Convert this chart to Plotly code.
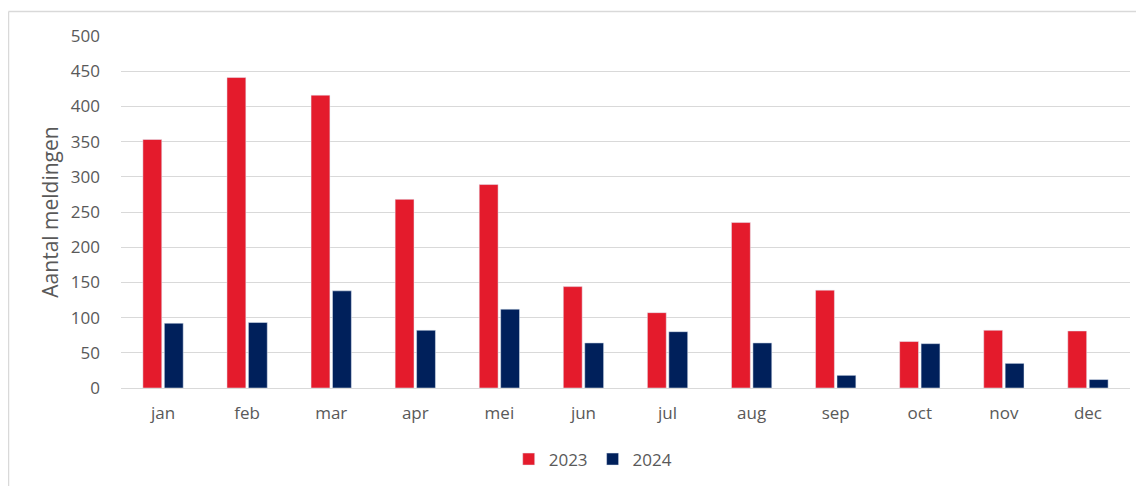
import plotly.graph_objects as go

maanden = ['jan', 'feb', 'mar', 'apr', 'mei', 'jun', 'jul', 'aug', 'sep', 'oct', 'nov', 'dec']
meldingen_2023 = [353, 441, 416, 268, 289, 144, 107, 235, 139, 66, 82, 81]
meldingen_2024 = [92, 93, 138, 82, 112, 64, 80, 64, 18, 63, 35, 12]

tekst = '#595959'
rand = '#d9d9d9'

fig = go.Figure([
    go.Bar(name='2023', x=maanden, y=meldingen_2023, marker=dict(color='#e41b2c')),
    go.Bar(name='2024', x=maanden, y=meldingen_2024, marker=dict(color='#00205b')),
])

# page has 8px body margin, so margins are shifted to compensate
fig.update_layout(
    width=1144, height=486,
    margin=dict(l=113, r=22, t=28, b=106, pad=0, autoexpand=False),
    paper_bgcolor='white', plot_bgcolor='white',
    font=dict(family='Open Sans, sans-serif', size=17, color=tekst),
    barmode='group', bargap=0.49, bargroupgap=0.12,
    legend=dict(orientation='h', x=0.468, xanchor='center', y=-0.152, yanchor='top',
                font=dict(size=17, color=tekst), bgcolor='rgba(0,0,0,0)', traceorder='normal'),
    yaxis=dict(range=[0, 500], dtick=50, showgrid=True, gridcolor=rand, gridwidth=1,
               zeroline=False, showline=False, ticks='', ticklabelstandoff=20, automargin=False,
               title=dict(text='Aantal meldingen', font=dict(size=21, color=tekst), standoff=6)),
    xaxis=dict(showline=True, linecolor=rand, linewidth=1, ticks='', ticklabelstandoff=10,
               automargin=False),
    shapes=[
        # chart frame (top and left edges visible)
        dict(type='line', xref='paper', yref='paper', x0=-0.1115, x1=1.03, y0=1.0696, y1=1.0696,
             line=dict(color=rand, width=1.5)),
        dict(type='line', xref='paper', yref='paper', x0=-0.1115, x1=-0.1115, y0=1.0696, y1=-0.31,
             line=dict(color=rand, width=1.5)),
    ],
)

fig.write_html('out.html')
